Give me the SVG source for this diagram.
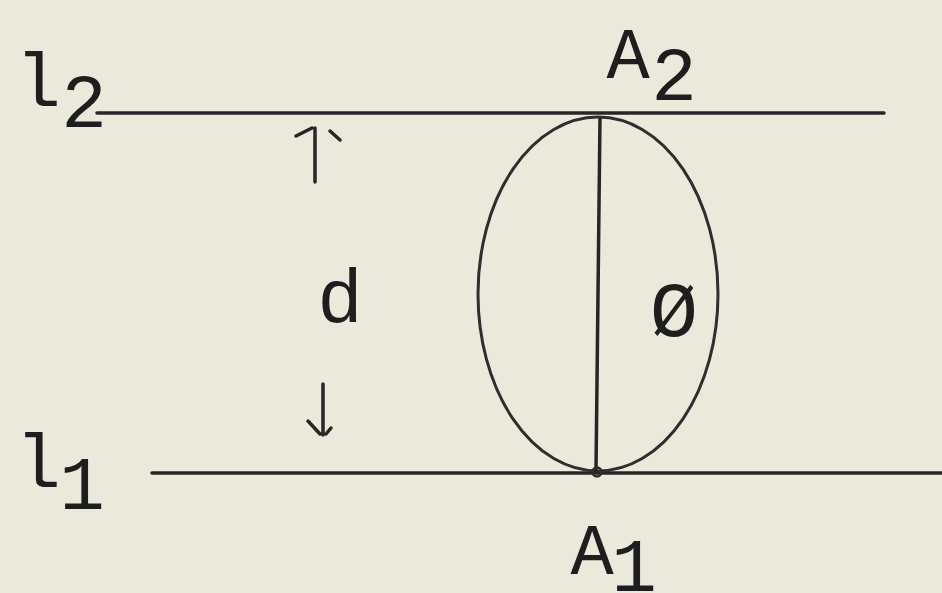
<svg xmlns="http://www.w3.org/2000/svg" width="942" height="593" viewBox="0 0 942 593">
<style>
.ln{stroke:#262626;stroke-width:3.5;fill:none;stroke-linecap:round}
.el{stroke:#2e2e2e;stroke-width:3;fill:none}
.t{font-family:"Liberation Mono","Courier New",monospace;fill:#1e1e1e;text-anchor:middle;font-size:76px}
.a{font-size:72px}
</style>
<rect width="942" height="593" fill="#ebe8dc"/>
<g id="connectors">
<path class="ln" d="M97 113 L884 113"/>
<path class="ln" d="M152 473 L942 473"/>
<path class="ln" d="M315 128 L315 182 M296 136 L312 128 M330 131 L340 140"/>
<path class="ln" d="M323 384 L323 435 M308 421 L320 434 M331 428 L326 434"/>
</g>
<g id="ellipse">
<ellipse class="el" cx="598" cy="294" rx="120" ry="177"/>
<path class="ln" d="M600 118 L596 470"/>
<circle cx="597" cy="472" r="4.5" fill="none" stroke="#2e2e2e" stroke-width="2.5"/>
</g>
<g id="label-l2">
<text class="t" x="38" y="106">l</text>
<text class="t" x="84" y="127">2</text>
</g>
<g id="label-A2">
<text class="t a" x="628" y="78">A</text>
<text class="t" x="674" y="100">2</text>
</g>
<g id="label-l1">
<text class="t" x="38" y="487">l</text>
<text class="t" x="82" y="509">1</text>
</g>
<g id="label-A1">
<text class="t a" x="592" y="574">A</text>
<text class="t" x="634" y="591">1</text>
</g>
<g id="label-d">
<text class="t" x="340" y="322">d</text>
</g>
<g id="label-phi">
<text class="t" transform="translate(674,336) scale(0.85,1)" x="0" y="0" style="font-size:96px">ø</text>
</g>
</svg>
